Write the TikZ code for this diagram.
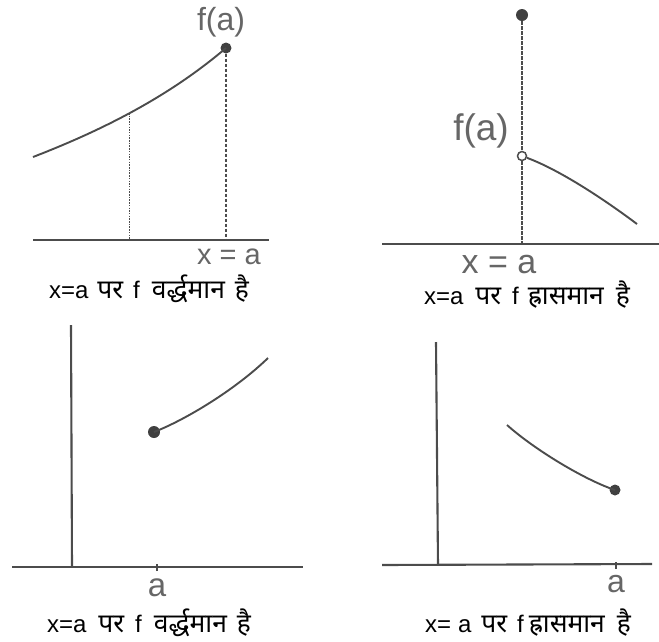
\documentclass[tikz,border=0pt]{standalone}
\usepackage{fontspec}
\setmainfont{Liberation Sans}
\newfontfamily\deva[Script=Devanagari,Scale=1.1]{Noto Sans}
\newcommand{\gp}[1]{\hspace{#1pt}}
\begin{document}
\begin{tikzpicture}[x=1pt,y=-1pt,
  axis/.style={draw=black!70,line width=2.1pt},
  curve/.style={draw=black!70,line width=1.9pt},
  dashline/.style={draw=black!70,line width=1.4pt,dash pattern=on 3.5pt off 1.5pt},
  dotline/.style={draw=black!70,line width=1.2pt,dash pattern=on 1.5pt off 1.2pt},
  dotfill/.style={circle,fill=black!75,inner sep=0pt,minimum size=11pt},
  dotopen/.style={circle,draw=black!70,line width=1.5pt,fill=white,inner sep=0pt,minimum size=9pt},
  glabel/.style={text=black!60,inner sep=0pt},
  caption/.style={text=black,inner sep=0pt,font=\fontsize{24}{27}\selectfont}]
\path[use as bounding box] (0,0) rectangle (659,641);

% ---------- panel 1 (top left) ----------
\coordinate (b1l) at (33,240);
\coordinate (b1r) at (269,240);
\draw[axis] (b1l) -- (b1r);
\coordinate (c1s) at (33,157);
\node[dotfill] (c1e) at (226,48) {};
\draw[curve] (c1s) .. controls (95,133) and (165,100) .. coordinate[pos=0.5] (c1m) (c1e.center);
\coordinate (c1mb) at (c1m |- b1l);
\coordinate (c1eb) at (c1e |- b1l);
\draw[dotline] (c1m) -- (c1mb);
\draw[dashline] (c1e) -- (c1eb);
\node[glabel,font=\fontsize{32}{34}\selectfont] (fa1) at (221,22) {f(a)};
\node[glabel,font=\fontsize{29}{30}\selectfont] (xa1) at (229,257) {x = a};
\node[caption] (cap1) at (149,289) {x=a\gp{9}{\deva पर}\gp{10}f\gp{12}{\deva वर्द्धमान}\gp{10}{\deva है}};

% ---------- panel 2 (top right) ----------
\coordinate (b2l) at (382,244);
\coordinate (b2r) at (659,244);
\draw[axis] (b2l) -- (b2r);
\node[dotfill,minimum size=12pt] (top2) at (522,15) {};
\coordinate (bot2) at (522,244);
\draw[dashline] (top2) -- (bot2);
\node[dotopen] (o2) at (522,156) {};
\coordinate (c2e) at (637,224);
\draw[curve] (o2) .. controls (560,170) and (605,200) .. (c2e);
\node[glabel,font=\fontsize{37}{40}\selectfont] (fa2) at (481,131) {f(a)};
\node[glabel,font=\fontsize{34}{36}\selectfont] (xa2) at (499,265) {x = a};
\node[caption] (cap2) at (527,295) {x=a\gp{12}{\deva पर}\gp{11}f\gp{9}{\deva ह्रासमान}\gp{12}{\deva है}};

% ---------- panel 3 (bottom left) ----------
\coordinate (v3t) at (71,325);
\coordinate (v3b) at (72,567);
\coordinate (h3l) at (12,567);
\coordinate (h3r) at (303,567);
\draw[axis] (v3t) -- (v3b);
\draw[axis] (h3l) -- (h3r);
\coordinate (t3) at (157,567);
\draw[draw=black!70,line width=1.4pt] ([yshift=-4pt]t3) -- ([yshift=3pt]t3);
\node[dotfill,minimum size=12pt] (d3) at (154,432) {};
\coordinate (c3e) at (268,358);
\draw[curve] (d3.center) .. controls (185,420) and (235,390) .. (c3e);
\node[glabel,font=\fontsize{33}{34}\selectfont] (a3) at (157,588) {a};
\node[caption] (cap3) at (149,623) {x=a\gp{12}{\deva पर}\gp{11}f\gp{12}{\deva वर्द्धमान}\gp{10}{\deva है}};

% ---------- panel 4 (bottom right) ----------
\coordinate (v4t) at (436,342);
\coordinate (v4b) at (438,565);
\coordinate (h4l) at (382,565);
\coordinate (h4r) at (652,564);
\draw[axis] (v4t) -- (v4b);
\draw[axis] (h4l) -- (h4r);
\coordinate (t4) at (616,565);
\draw[draw=black!70,line width=1.4pt] ([yshift=-4pt]t4) -- ([yshift=3pt]t4);
\coordinate (c4s) at (507,425);
\node[dotfill] (d4) at (615,490) {};
\draw[curve] (c4s) .. controls (535,450) and (585,480) .. (d4.center);
\node[glabel,font=\fontsize{32}{34}\selectfont] (a4) at (616,584) {a};
\node[caption] (cap4) at (528,623) {x=\gp{7}a\gp{10}{\deva पर}\gp{10}f\gp{5}{\deva ह्रासमान}\gp{12}{\deva है}};
\end{tikzpicture}
\end{document}
